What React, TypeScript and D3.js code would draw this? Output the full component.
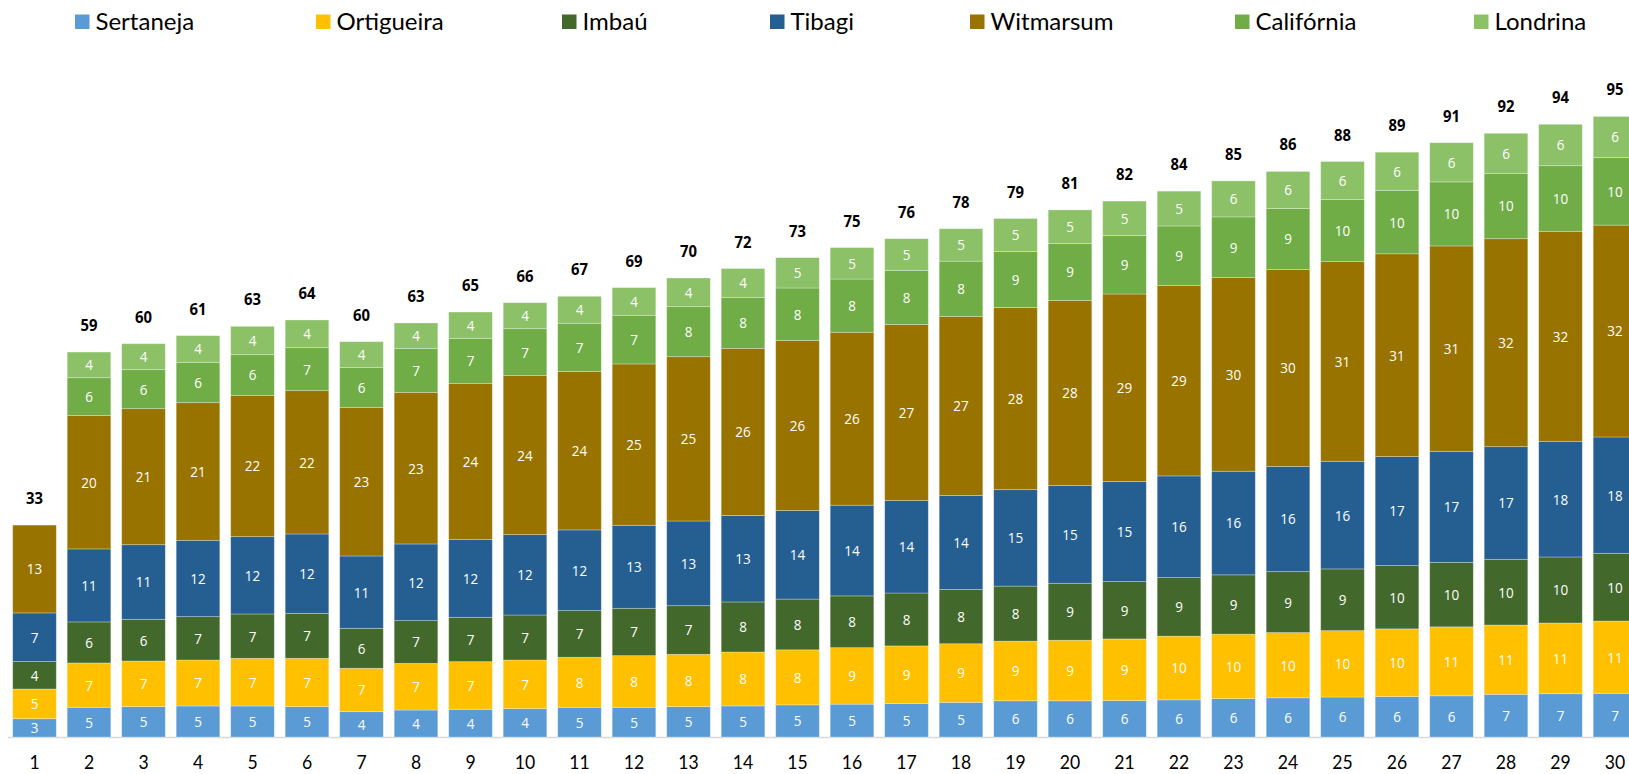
import { useEffect, useRef } from 'react';
import * as d3 from 'd3';

// categories (x axis tick labels)
const categories = [
  '1', '2', '3', '4', '5', '6', '7', '8', '9', '10',
  '11', '12', '13', '14', '15', '16', '17', '18', '19', '20',
  '21', '22', '23', '24', '25', '26', '27', '28', '29', '30'
];

// series values (labels show rounded numbers)
const sertaneja = [2.8, 4.55, 4.65, 4.75, 4.75, 4.65, 3.88, 4.13, 4.24, 4.34, 4.55, 4.55, 4.65, 4.76, 4.92, 5.03, 5.14, 5.31, 5.55, 5.55, 5.57, 5.69, 5.88, 6.0, 6.12, 6.19, 6.31, 6.54, 6.63, 6.69];
const ortigueira = [4.55, 6.79, 6.99, 7.04, 7.3, 7.4, 6.64, 7.15, 7.3, 7.45, 7.66, 7.91, 8.01, 8.26, 8.43, 8.65, 8.81, 8.97, 9.13, 9.27, 9.45, 9.76, 9.87, 9.99, 10.17, 10.37, 10.56, 10.61, 10.83, 11.07];
const imbau = [4.2, 6.28, 6.38, 6.64, 6.79, 6.89, 6.12, 6.54, 6.79, 6.89, 7.14, 7.25, 7.45, 7.66, 7.77, 7.93, 8.1, 8.31, 8.43, 8.72, 8.78, 8.96, 9.08, 9.33, 9.45, 9.69, 9.88, 10.06, 10.11, 10.37];
const tibagi = [7.45, 11.18, 11.43, 11.69, 11.84, 12.15, 11.08, 11.74, 11.94, 12.31, 12.36, 12.71, 12.97, 13.24, 13.56, 13.89, 14.16, 14.39, 14.77, 14.96, 15.33, 15.57, 15.87, 16.11, 16.48, 16.69, 17.0, 17.25, 17.71, 17.81];
const witmarsum = [13.45, 20.45, 20.83, 21.08, 21.64, 21.95, 22.76, 23.22, 23.89, 24.35, 24.29, 24.71, 25.16, 25.6, 26.04, 26.48, 26.97, 27.41, 27.9, 28.35, 28.71, 29.19, 29.68, 30.16, 30.58, 31.06, 31.45, 31.85, 32.16, 32.45];
const california = [0, 5.77, 5.97, 6.18, 6.23, 6.58, 6.13, 6.74, 6.89, 7.19, 7.36, 7.45, 7.66, 7.77, 8.04, 8.15, 8.26, 8.48, 8.58, 8.72, 8.96, 9.09, 9.27, 9.33, 9.51, 9.69, 9.81, 10.01, 10.05, 10.36];
const londrina = [0, 3.93, 3.98, 4.08, 4.34, 4.24, 3.93, 3.88, 4.03, 3.98, 4.13, 4.24, 4.39, 4.45, 4.65, 4.82, 4.87, 4.97, 5.04, 5.15, 5.27, 5.33, 5.51, 5.69, 5.82, 5.87, 6.0, 6.13, 6.34, 6.28];

// total labels above each bar
const totals = [33, 59, 60, 61, 63, 64, 60, 63, 65, 66, 67, 69, 70, 72, 73, 75, 76, 78, 79, 81, 82, 84, 85, 86, 88, 89, 91, 92, 94, 95];

const series = [
  { key: 'Sertaneja', color: '#5B9BD5', values: sertaneja },
  { key: 'Ortigueira', color: '#FFC000', values: ortigueira },
  { key: 'Imbaú', color: '#43682B', values: imbau },
  { key: 'Tibagi', color: '#255E91', values: tibagi },
  { key: 'Witmarsum', color: '#997300', values: witmarsum },
  { key: 'Califórnia', color: '#70AD47', values: california },
  { key: 'Londrina', color: '#8CC168', values: londrina }
];

// legend item left edges
const LEGEND_X = [75, 316, 562, 770, 970, 1235, 1474];

const W = 1629;
const H = 774;

const StackedChart = () => {
  const ref = useRef<SVGSVGElement | null>(null);

  useEffect(() => {
    if (!ref.current) return;
    const svg = d3.select(ref.current);
    svg.selectAll('*').remove();

    const baseY = 737;
    const x = d3
      .scaleBand()
      .domain(categories)
      .range([7.25, 1642.25])
      .paddingInner(0.2)
      .paddingOuter(0.1);
    const y = d3.scaleLinear().domain([0, 100]).range([baseY, baseY - 653]);
    const bw = x.bandwidth();

    const rows = categories.map((c, i) => {
      const r: any = { cat: c, idx: i };
      series.forEach((s) => (r[s.key] = s.values[i]));
      return r;
    });
    const stacked = d3.stack<any>().keys(series.map((s) => s.key))(rows);

    // x axis
    const axis = svg
      .append('g')
      .attr('transform', `translate(0,${baseY})`)
      .call(d3.axisBottom(x).tickSize(0).tickPadding(18));
    axis.select('.domain').attr('stroke', '#D9D9D9').attr('stroke-width', 1.5);
    axis
      .selectAll('text')
      .attr('font-family', 'Lato, "Open Sans", sans-serif')
      .attr('font-size', 20)
      .attr('fill', '#000')
      .attr('transform', 'scale(0.88,1)');

    const layers = svg
      .append('g')
      .selectAll('g')
      .data(stacked)
      .join('g')
      .attr('fill', (_d, i) => series[i].color);

    layers
      .selectAll('rect')
      .data((d) => d)
      .join('rect')
      .attr('x', (d: any) => x(d.data.cat) as number)
      .attr('y', (d) => y(d[1]))
      .attr('width', bw)
      .attr('height', (d) => y(d[0]) - y(d[1]))
      .attr('stroke', 'rgba(255,255,255,0.35)')
      .attr('stroke-width', 0.8);

    // segment labels
    stacked.forEach((layer, si) => {
      svg
        .append('g')
        .selectAll('text')
        .data(layer.filter((d) => d[1] - d[0] > 0.5))
        .join('text')
        .attr(
          'transform',
          (d: any) =>
            `translate(${(x(d.data.cat) as number) + bw / 2},${(y(d[0]) + y(d[1])) / 2}) scale(0.9,1)`
        )
        .attr('dy', '0.36em')
        .attr('text-anchor', 'middle')
        .attr('fill', '#fff')
        .attr('font-family', '"Open Sans", "Noto Sans", sans-serif')
        .attr('font-size', 15)
        .text((d: any) => Math.round(series[si].values[d.data.idx]));
    });

    // totals
    const top = stacked[stacked.length - 1];
    svg
      .append('g')
      .selectAll('text')
      .data(top)
      .join('text')
      .attr(
        'transform',
        (d: any) => `translate(${(x(d.data.cat) as number) + bw / 2},${y(d[1]) - 21}) scale(0.9,1)`
      )
      .attr('text-anchor', 'middle')
      .attr('fill', '#000')
      .attr('font-family', '"Open Sans", "Noto Sans", sans-serif')
      .attr('font-weight', 'bold')
      .attr('font-size', 16.5)
      .text((d: any) => totals[d.data.idx]);

    // legend
    const legend = svg
      .append('g')
      .selectAll('g')
      .data(series)
      .join('g')
      .attr('transform', (_d, i) => `translate(${LEGEND_X[i]},0)`);
    legend
      .append('rect')
      .attr('x', 0)
      .attr('y', 14.5)
      .attr('width', 14.5)
      .attr('height', 14.5)
      .attr('fill', (d) => d.color);
    legend
      .append('text')
      .attr('x', 20.5)
      .attr('y', 30)
      .attr('font-family', 'Lato, "Open Sans", sans-serif')
      .attr('font-size', 24)
      .attr('fill', '#000')
      .text((d) => d.key);
  }, []);

  return (
    <svg
      ref={ref}
      width={W}
      height={H}
      style={{ position: 'absolute', left: 0, top: 0, display: 'block', background: '#fff' }}
    />
  );
};

export default function App() {
  return <StackedChart />;
}
